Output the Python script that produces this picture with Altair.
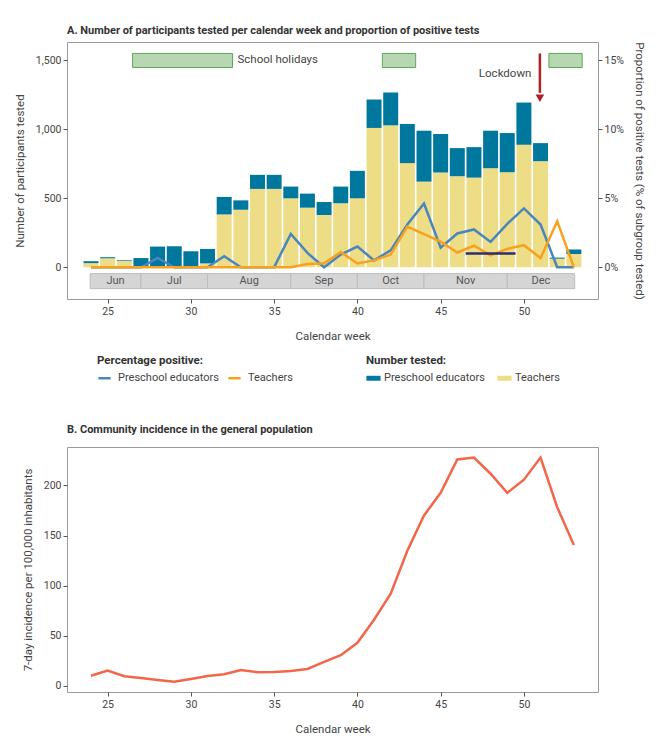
import altair as alt
import pandas as pd

# ---------------- data ----------------
weeks = list(range(24, 54))
teachers_n = [30, 65, 48, 3, 0, 0, 0, 28, 383, 417, 568, 568, 500, 432, 379, 464,
              500, 1010, 1029, 755, 621, 687, 660, 650, 718, 689, 888, 769, 62, 97]
preschool_n = [14, 8, 5, 64, 150, 153, 116, 105, 127, 68, 102, 102, 85, 102, 94, 121,
               199, 206, 238, 284, 369, 279, 204, 221, 272, 284, 306, 131, 8, 32]
preschool_pct = [0, 0, 0, 0, 0.68, 0, 0, 0, 0.8, 0, 0, 0, 2.42, 1.04, 0, 0.92,
                 1.5, 0.5, 1.23, 3.1, 4.62, 1.42, 2.45, 2.74, 1.84, 3.15, 4.27, 3.1, 0, 0]
teachers_pct = [0, 0, 0, 0, 0, 0, 0, 0, 0, 0, 0, 0, 0, 0.24, 0.29, 1.1,
                0.28, 0.5, 0.92, 2.94, 2.4, 1.86, 1.07, 1.56, 0.86, 1.33, 1.6, 0.67, 3.34, 0]
incidence = [10, 15, 9.4, 7.7, 5.7, 4, 6.7, 9.7, 11.4, 15.7, 13.4, 13.7, 14.7, 16.7,
             23.7, 30.4, 42.8, 65.9, 92, 134.8, 170, 192.6, 226, 227.8, 211.7, 192.6,
             205.7, 227.8, 178.3, 140.5]

groups = ["Preschool educators", "Teachers"]

month_names = ["Jun", "Jul", "Aug", "Sep", "Oct", "Nov", "Dec"]
month_start = [23.95, 27, 31, 36, 40, 44, 49]
month_end = [27, 31, 36, 40, 44, 49, 53.05]

holiday_start = [26.5, 41.5, 51.5]
holiday_end = [32.5, 43.5, 53.5]

lockdown_week = 50.96
plateau_start, plateau_end, plateau_pct = 46.5, 49.5, 1.0

FONT = "Roboto, sans-serif"
XDOM = [22.56, 54.45]
YDOM = [-230, 1633]
PDOM = [-2.30, 16.33]
W = 531

# ---------------- tables ----------------
bar_rows = []
for w, t, p in zip(weeks, teachers_n, preschool_n):
    bar_rows.append({"week": w, "tested": "Teachers", "lo": 0, "hi": t})
    bar_rows.append({"week": w, "tested": "Preschool educators", "lo": t, "hi": t + p})
bars_df = pd.DataFrame(bar_rows)

# line groups coded (p1/p2) so the two legends stay separate; labels restored by labelExpr
line_rows = []
for w, p in zip(weeks, preschool_pct):
    line_rows.append({"week": w, "positive": "p1", "pct": p})
for w, t in zip(weeks, teachers_pct):
    line_rows.append({"week": w, "positive": "p2", "pct": t})
lines_df = pd.DataFrame(line_rows)

months_df = pd.DataFrame({"name": month_names, "start": month_start, "end": month_end})
hol_df = pd.DataFrame({"start": holiday_start, "end": holiday_end})
inc_df = pd.DataFrame({"week": weeks, "inc": incidence})

xscale = alt.Scale(domain=XDOM, nice=False, zero=False)
yscale = alt.Scale(domain=YDOM, nice=False, zero=False)
pscale = alt.Scale(domain=PDOM, nice=False, zero=False)

x_axis = alt.Axis(values=[25, 30, 35, 40, 45, 50], title="Calendar week", titlePadding=14,
                  labelPadding=3)

bars = alt.Chart(bars_df).transform_calculate(
    x0="datum.week - 0.45", x1="datum.week + 0.45"
).mark_bar(strokeWidth=0).encode(
    x=alt.X("x0:Q", scale=xscale, axis=x_axis),
    x2="x1:Q",
    y=alt.Y("lo:Q", scale=yscale,
            axis=alt.Axis(values=[0, 500, 1000, 1500], format=",.0f",
                          title="Number of participants tested", titlePadding=10)),
    y2="hi:Q",
    fill=alt.Fill("tested:N",
                  scale=alt.Scale(domain=groups, range=["#00789E", "#EDDD86"]),
                  legend=alt.Legend(title="Number tested:", orient="none", legendX=299,
                                    legendY=313, direction="horizontal",
                                    symbolType="M-1,-0.35H1V0.35H-1Z", symbolSize=200,
                                    symbolStrokeWidth=0, labelOffset=3, columnPadding=12)),
)

months_rect = alt.Chart(months_df).mark_rect(fill="#D5D5D5", stroke="#BDBDBD",
                                             strokeWidth=1).encode(
    x=alt.X("start:Q", scale=xscale), x2="end:Q",
    y=alt.datum(-46, scale=yscale), y2=alt.datum(-155),
)
months_text = alt.Chart(months_df).transform_calculate(
    mid="(datum.start + datum.end) / 2"
).mark_text(font=FONT, fontSize=11, color="#555555", baseline="middle").encode(
    x=alt.X("mid:Q", scale=xscale), y=alt.datum(-100, scale=yscale), text="name:N"
)

hol = alt.Chart(hol_df).mark_rect(fill="#B7D7B3", stroke="#5DA85B", strokeWidth=1).encode(
    x=alt.X("start:Q", scale=xscale), x2="end:Q",
    y=alt.datum(1448, scale=yscale), y2=alt.datum(1550),
)
hol_text = alt.Chart(pd.DataFrame({"t": ["School holidays"], "x": [32.8], "y": [1500]})).mark_text(
    font=FONT, fontSize=11.5, color="#444444", align="left", baseline="middle"
).encode(x=alt.X("x:Q", scale=xscale), y=alt.Y("y:Q", scale=yscale), text="t:N")

lock_df = pd.DataFrame({"x": [lockdown_week], "y0": [1550], "y1": [1265], "yh": [1226],
                        "tx": [50.45], "ty": [1398], "t": ["Lockdown"]})
lock_rule = alt.Chart(lock_df).mark_rule(color="#B22222", strokeWidth=2.5).encode(
    x=alt.X("x:Q", scale=xscale), y=alt.Y("y0:Q", scale=yscale), y2="y1:Q")
lock_head = alt.Chart(lock_df).mark_point(shape="triangle-down", filled=True, color="#B22222",
                                          size=75, opacity=1).encode(
    x=alt.X("x:Q", scale=xscale), y=alt.Y("yh:Q", scale=yscale))
lock_text = alt.Chart(lock_df).mark_text(font=FONT, fontSize=11.5, color="#444444",
                                         align="right", baseline="middle").encode(
    x=alt.X("tx:Q", scale=xscale), y=alt.Y("ty:Q", scale=yscale), text="t:N")

stroke_scale = alt.Scale(domain=["p1", "p2"], range=["#4A86BE", "#F8A11F"])
label_expr = ("datum.value == 'p1' ? '%s' : '%s'" % (groups[0], groups[1]))
line_pre = alt.Chart(lines_df).transform_filter(
    "datum.positive == 'p1'"
).mark_line(strokeWidth=2.5).encode(
    x=alt.X("week:Q", scale=xscale),
    y=alt.Y("pct:Q", scale=pscale,
            axis=alt.Axis(orient="right", values=[0, 5, 10, 15],
                          labelExpr="datum.value + '%'",
                          title="Proportion of positive tests (% of subgroup tested)",
                          titlePadding=10)),
    stroke=alt.Stroke("positive:N", scale=stroke_scale,
                      legend=alt.Legend(title="Percentage positive:", orient="none",
                                        legendX=30, legendY=313, direction="horizontal",
                                        symbolType="stroke", symbolSize=150,
                                        symbolStrokeWidth=2.5, labelOffset=6,
                                        columnPadding=4, labelExpr=label_expr)),
)
line_tea = alt.Chart(lines_df).transform_filter(
    "datum.positive == 'p2'"
).mark_line(strokeWidth=2.5).encode(
    x=alt.X("week:Q", scale=xscale),
    y=alt.Y("pct:Q", scale=pscale),
    stroke=alt.Stroke("positive:N", scale=stroke_scale),
)
plateau = alt.Chart(pd.DataFrame({"x0": [plateau_start], "x1": [plateau_end],
                                  "y": [plateau_pct]})).mark_rule(
    color="#2E2C6E", strokeWidth=2.5).encode(
    x=alt.X("x0:Q", scale=xscale), x2="x1:Q", y=alt.Y("y:Q", scale=pscale))

count_layer = alt.layer(bars, months_rect, months_text, hol, hol_text,
                        lock_rule, lock_head, lock_text)
pct_layer = alt.layer(line_pre, line_tea, plateau)

top = alt.layer(count_layer, pct_layer).resolve_scale(y="independent").properties(
    width=W, height=257,
    title=alt.Title("A. Number of participants tested per calendar week and proportion of positive tests",
                    anchor="start", frame="group", offset=6),
)

bottom = alt.Chart(inc_df).mark_line(color="#F26649", strokeWidth=2.5).encode(
    x=alt.X("week:Q", scale=xscale, axis=x_axis),
    y=alt.Y("inc:Q", scale=alt.Scale(domain=[-6.3, 238.4], nice=False, zero=False),
            axis=alt.Axis(values=[0, 50, 100, 150, 200],
                          title="7-day incidence per 100,000 inhabitants", titlePadding=10)),
).properties(
    width=W, height=245,
    title=alt.Title("B. Community incidence in the general population",
                    anchor="start", frame="group", offset=12),
)

chart = alt.vconcat(top, bottom, spacing=80).properties(
    padding={"top": 16, "left": 5, "right": 5, "bottom": 5}
).configure(font=FONT).configure_view(
    stroke="#9A9A9A", strokeWidth=1
).configure_axis(
    domain=False, grid=False, tickColor="#555555", tickSize=4, labelColor="#444444",
    labelFontSize=10.5, titleColor="#444444", titleFontSize=11.5, titleFontWeight="normal",
    labelFont=FONT, titleFont=FONT
).configure_title(
    font=FONT, fontSize=11, fontWeight="bold", color="#333333"
).configure_legend(
    titleFont=FONT, labelFont=FONT, titleFontSize=11.5, labelFontSize=11,
    titleColor="#333333", labelColor="#444444", titleFontWeight="bold", titlePadding=4
)

chart.save("out.html", embed_options={"renderer": "svg", "actions": False})
